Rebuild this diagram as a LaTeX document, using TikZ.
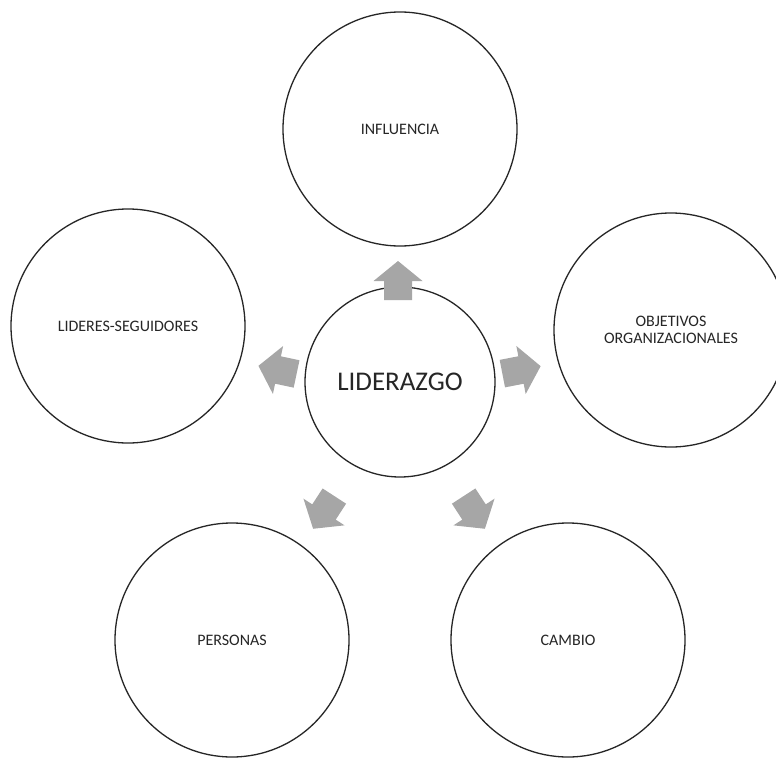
\documentclass[tikz,border=0pt]{standalone}
\usepackage{fontspec}
\setmainfont{Carlito}
\begin{document}
\begin{tikzpicture}[x=1pt,y=-1pt,
  ring/.style={circle,draw=black!85,line width=1.3pt,fill=white,inner sep=0pt,
    minimum size=#1,text=black!85,align=center},
  ring/.default=234,
  lbl/.style={font=\fontsize{16}{17}\selectfont},
  blockarrow/.pic={\fill[gray!70] (20,0) -- (0,24.5) -- (0,14) -- (-19,14)
    -- (-19,-14) -- (0,-14) -- (0,-24.5) -- cycle;}]
  \useasboundingbox (0,0) rectangle (776,760);

  % hub
  \node[ring=190,font=\fontsize{27}{32}\selectfont] (hub) at (400,382) {LIDERAZGO};

  % surrounding concepts
  \node[ring,lbl] (inf) at (400,129) {INFLUENCIA};
  \node[ring,lbl] (obj) at (671,330) {OBJETIVOS\\ORGANIZACIONALES};
  \node[ring,lbl] (lid) at (128,326) {LIDERES-SEGUIDORES};
  \node[ring,lbl] (per) at (232,640) {PERSONAS};
  \node[ring,lbl] (cam) at (568,640) {CAMBIO};

  % block arrows pointing from the hub towards each concept
  \pic[rotate=90] at (398,281) {blockarrow};
  \pic[rotate=168] at (278,370) {blockarrow};
  \pic[rotate=11] at (521,370) {blockarrow};
  \pic[rotate=237] at (324,512) {blockarrow};
  \pic[rotate=-57] at (474,512) {blockarrow};
\end{tikzpicture}
\end{document}
